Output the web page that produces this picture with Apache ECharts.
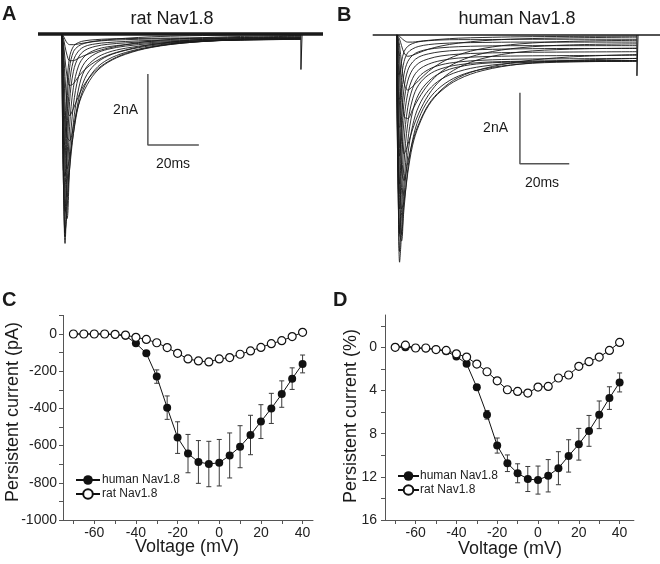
<!DOCTYPE html>
<html><head><meta charset="utf-8">
<script src="https://cdn.jsdelivr.net/npm/echarts@6/dist/echarts.min.js"></script>
<style>html,body{margin:0;padding:0;background:#fff}#c{width:660px;height:564px}</style>
</head><body><div id="c"></div>
<script>
// ---------- Panel C / D data (voltage steps, mV) ----------
const voltages = [-70,-65,-60,-55,-50,-45,-40,-35,-30,-25,-20,-15,-10,-5,0,5,10,15,20,25,30,35,40];
const humanPA    = [0,0,0,0,-4,-10,-50,-104,-229,-396,-557,-643,-688,-699,-692,-653,-606,-543,-471,-400,-323,-240,-161];
const humanPAErr = [3,3,3,3,4,5,8,12,36,63,85,103,115,122,125,121,113,106,91,81,71,58,48];
const ratPA      = [0,0,0,0,-2,-6,-18,-29,-47,-73,-104,-134,-145,-150,-134,-127,-109,-91,-72,-52,-36,-14,9];
const ratPAErr   = [6,6,5,5,5,6,8,9,10,12,14,15,16,17,16,15,14,13,12,11,10,9,9];
const humanPct    = [0,0,0.06,0.1,0.2,0.37,0.84,1.52,3.7,6.25,9.1,10.74,11.67,12.2,12.3,11.9,11.2,10.06,8.98,7.74,6.25,4.7,3.25];
const humanPctErr = [0.05,0.05,0.05,0.05,0.05,0.08,0.12,0.15,0.25,0.4,0.7,0.77,0.88,1.16,1.3,1.5,1.53,1.5,1.47,1.43,1.28,1.05,0.88];
const ratPct      = [0,-0.2,0.06,0.06,0.2,0.28,0.6,0.9,1.55,2.26,3.1,3.93,4.08,4.24,3.68,3.62,2.84,2.56,1.76,1.33,0.9,0.28,-0.46];
const ratPctErr   = [0.1,0.15,0.1,0.1,0.1,0.12,0.15,0.2,0.25,0.25,0.3,0.3,0.3,0.3,0.3,0.3,0.25,0.25,0.25,0.2,0.2,0.2,0.25];

// tick values
const vTicks  = [-70,-60,-50,-40,-30,-20,-10,0,10,20,30,40];
const vLabels = [-60,-40,-20,0,20,40];
const pctTicks  = [-2,0,2,4,6,8,10,12,14,16];
const pctLabels = [0,4,8,12,16];

// ---------- Panel A: rat Nav1.8 current traces (ms after step, nA) ----------
const timeA = [0,0.5,1.2,2,3,4.5,6.5,9,13,18,25,35,50,70,93.7];
const tracesA = [
  [0,-0.05,-0.15,-0.25,-0.3,-0.3,-0.28,-0.25,-0.2,-0.16,-0.12,-0.08,-0.05,-0.03,-0.02],
  [0,-0.1,-0.35,-0.6,-0.75,-0.75,-0.68,-0.6,-0.5,-0.4,-0.3,-0.2,-0.12,-0.07,-0.04],
  [0,-0.2,-0.7,-1.2,-1.45,-1.4,-1.2,-1.0,-0.78,-0.6,-0.45,-0.3,-0.18,-0.1,-0.06],
  [0,-0.3,-1.2,-2.0,-2.3,-2.1,-1.75,-1.4,-1.05,-0.78,-0.55,-0.37,-0.22,-0.13,-0.08],
  [0,-0.5,-1.9,-2.9,-3.0,-2.6,-2.0,-1.55,-1.1,-0.8,-0.57,-0.38,-0.24,-0.15,-0.1],
  [0,-0.8,-2.8,-3.8,-3.5,-2.8,-2.0,-1.45,-1.0,-0.72,-0.52,-0.36,-0.24,-0.16,-0.12],
  [0,-1.2,-3.8,-4.6,-3.8,-2.8,-1.85,-1.25,-0.85,-0.62,-0.46,-0.33,-0.23,-0.16,-0.13],
  [0,-1.8,-4.8,-5.2,-3.8,-2.5,-1.55,-1.0,-0.7,-0.52,-0.4,-0.3,-0.22,-0.17,-0.14],
  [0,-2.5,-5.6,-5.0,-3.3,-2.0,-1.2,-0.8,-0.56,-0.43,-0.34,-0.27,-0.21,-0.17,-0.15],
  [0,-3.3,-5.9,-4.4,-2.6,-1.5,-0.9,-0.62,-0.45,-0.36,-0.3,-0.24,-0.2,-0.17,-0.15],
  [0,-3.8,-5.7,-3.6,-1.9,-1.05,-0.65,-0.46,-0.35,-0.29,-0.25,-0.21,-0.18,-0.16,-0.14],
  [0,-4.0,-5.0,-2.8,-1.4,-0.75,-0.48,-0.35,-0.28,-0.24,-0.21,-0.18,-0.16,-0.14,-0.13],
  [0,-3.8,-4.0,-2.0,-0.95,-0.5,-0.34,-0.26,-0.21,-0.18,-0.16,-0.14,-0.13,-0.12,-0.11],
  [0,-3.2,-3.0,-1.4,-0.65,-0.35,-0.24,-0.19,-0.16,-0.14,-0.13,-0.12,-0.11,-0.1,-0.09]
];
const holdA = [[-9.4,0],[102.4,0]];
const tailA = [[93.7,0],[93.75,-1.0],[94.2,0]];
const barA = [[33.7,-1.13],[33.7,-3.13],[53.7,-3.13]];

// ---------- Panel B: human Nav1.8 current traces ----------
const timeB = [0,0.5,1.2,2,3,4.5,6.5,9,13,18,25,35,50,70,97.4];
const tracesB = [
  [0,-0.01,-0.04,-0.09,-0.15,-0.2,-0.2,-0.18,-0.15,-0.12,-0.09,-0.07,-0.05,-0.04,-0.03],
  [0,-0.03,-0.12,-0.3,-0.5,-0.6,-0.57,-0.5,-0.4,-0.31,-0.23,-0.16,-0.11,-0.08,-0.06],
  [0,-0.06,-0.3,-0.8,-1.35,-1.55,-1.45,-1.28,-1.02,-0.78,-0.56,-0.38,-0.25,-0.18,-0.15],
  [0,-0.1,-0.6,-1.5,-2.3,-2.35,-2.1,-1.78,-1.38,-1.04,-0.75,-0.52,-0.36,-0.28,-0.25],
  [0,-0.2,-1.1,-2.6,-3.35,-3.1,-2.65,-2.2,-1.68,-1.26,-0.92,-0.66,-0.48,-0.4,-0.37],
  [0,-0.4,-2.0,-3.8,-4.1,-3.6,-3.0,-2.5,-1.95,-1.55,-1.2,-0.95,-0.75,-0.62,-0.55],
  [0,-0.8,-3.2,-4.9,-4.7,-3.9,-3.1,-2.55,-1.98,-1.58,-1.25,-1.0,-0.82,-0.72,-0.66],
  [0,-1.3,-4.5,-5.6,-4.9,-3.8,-2.95,-2.35,-1.82,-1.45,-1.16,-0.96,-0.82,-0.76,-0.74],
  [0,-2.0,-5.6,-5.8,-4.6,-3.4,-2.55,-2.0,-1.55,-1.25,-1.03,-0.88,-0.78,-0.74,-0.72],
  [0,-2.8,-6.4,-5.6,-4.2,-3.0,-2.15,-1.66,-1.3,-1.06,-0.9,-0.8,-0.76,-0.75,-0.74],
  [0,-3.5,-6.1,-5.0,-3.6,-2.5,-1.8,-1.4,-1.12,-0.95,-0.84,-0.77,-0.74,-0.72,-0.72],
  [0,-4.0,-5.6,-4.3,-3.0,-2.05,-1.5,-1.18,-0.97,-0.84,-0.76,-0.71,-0.68,-0.67,-0.66],
  [0,-3.9,-4.9,-3.6,-2.4,-1.65,-1.22,-0.98,-0.82,-0.72,-0.65,-0.61,-0.59,-0.58,-0.57],
  [0,-3.6,-4.2,-2.9,-1.9,-1.3,-0.97,-0.79,-0.67,-0.59,-0.54,-0.51,-0.49,-0.48,-0.47],
  [0,-3.1,-3.4,-2.3,-1.5,-1.0,-0.76,-0.62,-0.53,-0.47,-0.43,-0.41,-0.39,-0.38,-0.38],
  [0,-2.5,-2.6,-1.7,-1.1,-0.75,-0.57,-0.47,-0.4,-0.36,-0.33,-0.31,-0.3,-0.3,-0.3],
  [0,-1.8,-1.8,-1.2,-0.75,-0.5,-0.39,-0.32,-0.27,-0.24,-0.22,-0.21,-0.2,-0.2,-0.2],
  [0,-1.1,-1.1,-0.75,-0.47,-0.32,-0.24,-0.19,-0.16,-0.14,-0.13,-0.13,-0.12,-0.12,-0.12]
];
const holdB = [[-9.7,0],[106.8,0]];
const tailB = [[97.4,0],[97.45,-1.15],[97.9,0]];
const barB = [[50.0,-1.63],[50.0,-3.63],[70.0,-3.63]];

// ---------- build chart ----------
const FONT = "'Liberation Sans', Arial, sans-serif";
const INK = '#1a1a1a';
const chart = echarts.init(document.getElementById('c'), null, {renderer:'canvas'});

const series = [];
function traceSeries(times, traces, idx){
  traces.forEach(tr => {
    series.push({type:'line', xAxisIndex:idx, yAxisIndex:idx, data: times.map((t,i)=>[t,tr[i]]),
      showSymbol:false, smooth:0.35, lineStyle:{color:INK, width:0.9}, silent:true, z:2});
  });
}
function plain(data, idx, color, width, z){
  series.push({type:'line', xAxisIndex:idx, yAxisIndex:idx, data, showSymbol:false,
    lineStyle:{color, width}, silent:true, z});
}
plain(holdA, 0, INK, 3.5, 1);
traceSeries(timeA, tracesA, 0);
plain(tailA, 0, INK, 1, 2);
plain(barA, 0, '#555', 1.5, 2);
plain(holdB, 1, INK, 1.6, 1);
traceSeries(timeB, tracesB, 1);
plain(tailB, 1, INK, 1, 2);
plain(barB, 1, '#555', 1.5, 2);

function errRender(params, api){
  const x = api.value(0), y = api.value(1), e = api.value(2);
  const a = api.coord([x, y + e]), b = api.coord([x, y - e]);
  const w = 2.5, st = {stroke:'#3a3a3a', lineWidth:1};
  return {type:'group', children:[
    {type:'line', shape:{x1:a[0],y1:a[1],x2:b[0],y2:b[1]}, style:st},
    {type:'line', shape:{x1:a[0]-w,y1:a[1],x2:a[0]+w,y2:a[1]}, style:st},
    {type:'line', shape:{x1:b[0]-w,y1:b[1],x2:b[0]+w,y2:b[1]}, style:st}
  ]};
}
function ivSeries(idx, hv, he, rv, re){
  series.push({type:'custom', name:'hErr'+idx, xAxisIndex:idx, yAxisIndex:idx, renderItem:errRender,
    data: voltages.map((v,i)=>[v,hv[i],he[i]]), encode:{x:0,y:1}, z:1, silent:true});
  series.push({type:'line', name:'human Nav1.8', xAxisIndex:idx, yAxisIndex:idx,
    data: voltages.map((v,i)=>[v,hv[i]]), symbol:'circle', symbolSize:8,
    itemStyle:{color:'#111'}, lineStyle:{color:'#111', width:1}, z:3});
  series.push({type:'custom', name:'rErr'+idx, xAxisIndex:idx, yAxisIndex:idx, renderItem:errRender,
    data: voltages.map((v,i)=>[v,rv[i],re[i]]), encode:{x:0,y:1}, z:1, silent:true});
  series.push({type:'line', name:'rat Nav1.8', xAxisIndex:idx, yAxisIndex:idx,
    data: voltages.map((v,i)=>[v,rv[i]]), symbol:'circle', symbolSize:8,
    itemStyle:{color:'#fff', borderColor:'#111', borderWidth:1.2}, lineStyle:{color:'#111', width:1}, z:4});
}
ivSeries(2, humanPA, humanPAErr, ratPA, ratPAErr);
ivSeries(3, humanPct, humanPctErr, ratPct, ratPctErr);

const axLine = {show:true, onZero:false, lineStyle:{color:'#555', width:1}};
const tick = (vals)=>({show:true, length:4, lineStyle:{color:'#555'}, customValues:vals});
const lab = (vals, margin)=>({show:true, customValues:vals, fontSize:14, color:'#222', fontFamily:FONT, margin});
const hidden = {show:false};

const txt = (x,y,text,size,opts={}) => Object.assign({type:'text', x, y, silent:true,
  style:{text, fill:'#1a1a1a', font:(opts.bold?'bold ':'')+size+'px '+FONT,
  textAlign:opts.align||'center', textVerticalAlign:'middle'}}, opts.rot?{rotation:opts.rot}:{});

const option = {
  animation:false,
  backgroundColor:'#fff',
  grid:[
    {left:38, top:19.8, width:285, height:241.4},
    {left:372.7, top:20.8, width:287.3, height:255.6},
    {left:63, top:315.4, width:250, height:204.6},
    {left:385, top:315, width:248.9, height:205}
  ],
  xAxis:[
    {gridIndex:0, type:'value', min:-9.4, max:102.4, show:false},
    {gridIndex:1, type:'value', min:-9.7, max:106.8, show:false},
    {gridIndex:2, type:'value', min:-75, max:45, axisLine:axLine, axisTick:tick(vTicks), axisLabel:lab(vLabels,6), splitLine:hidden},
    {gridIndex:3, type:'value', min:-75, max:47, axisLine:axLine, axisTick:tick(vTicks), axisLabel:lab(vLabels,6), splitLine:hidden}
  ],
  yAxis:[
    {gridIndex:0, type:'value', min:-6.4, max:0.4, show:false},
    {gridIndex:1, type:'value', min:-6.8, max:0.4, show:false},
    {gridIndex:2, type:'value', min:-1000, max:100, interval:100, axisLine:axLine,
      axisTick:{show:true, length:4, lineStyle:{color:'#555'}},
      axisLabel:{fontSize:14, color:'#222', fontFamily:FONT, margin:6,
        formatter:v=> (v % 200 === 0 && v <= 0) ? String(v) : ''}, splitLine:hidden},
    {gridIndex:3, type:'value', min:-3, max:16, inverse:true, axisLine:axLine, axisTick:tick(pctTicks), axisLabel:lab(pctLabels,8), splitLine:hidden}
  ],
  legend:[
    {data:['human Nav1.8','rat Nav1.8'], orient:'vertical', left:75, top:474, itemWidth:24, itemHeight:12, itemGap:2,
      textStyle:{fontSize:12, color:'#222', fontFamily:FONT, padding:[0,0,0,-3]}, padding:0, selectedMode:false},
    {data:['human Nav1.8','rat Nav1.8'], orient:'vertical', left:397, top:470, itemWidth:21, itemHeight:12, itemGap:2,
      textStyle:{fontSize:12, color:'#222', fontFamily:FONT, padding:[0,0,0,-4]}, padding:0, selectedMode:false}
  ],
  graphic:[
    txt(2,14,'A',20,{bold:true,align:'left'}),
    txt(172,19,'rat Nav1.8',18),
    txt(337,15,'B',20,{bold:true,align:'left'}),
    txt(517,19,'human Nav1.8',18),
    txt(138,110,'2nA',14,{align:'right'}),
    txt(173,164,'20ms',14),
    txt(508,128,'2nA',14,{align:'right'}),
    txt(542,183,'20ms',14),
    txt(2,300,'C',20,{bold:true,align:'left'}),
    txt(333,300,'D',20,{bold:true,align:'left'}),
    txt(13,412,'Persistent current (pA)',18,{rot:Math.PI/2}),
    txt(351,416,'Persistent current (%)',18,{rot:Math.PI/2}),
    txt(187,547,'Voltage (mV)',18),
    txt(510,549,'Voltage (mV)',18)
  ],
  series
};
chart.setOption(option);
</script>
</body></html>
